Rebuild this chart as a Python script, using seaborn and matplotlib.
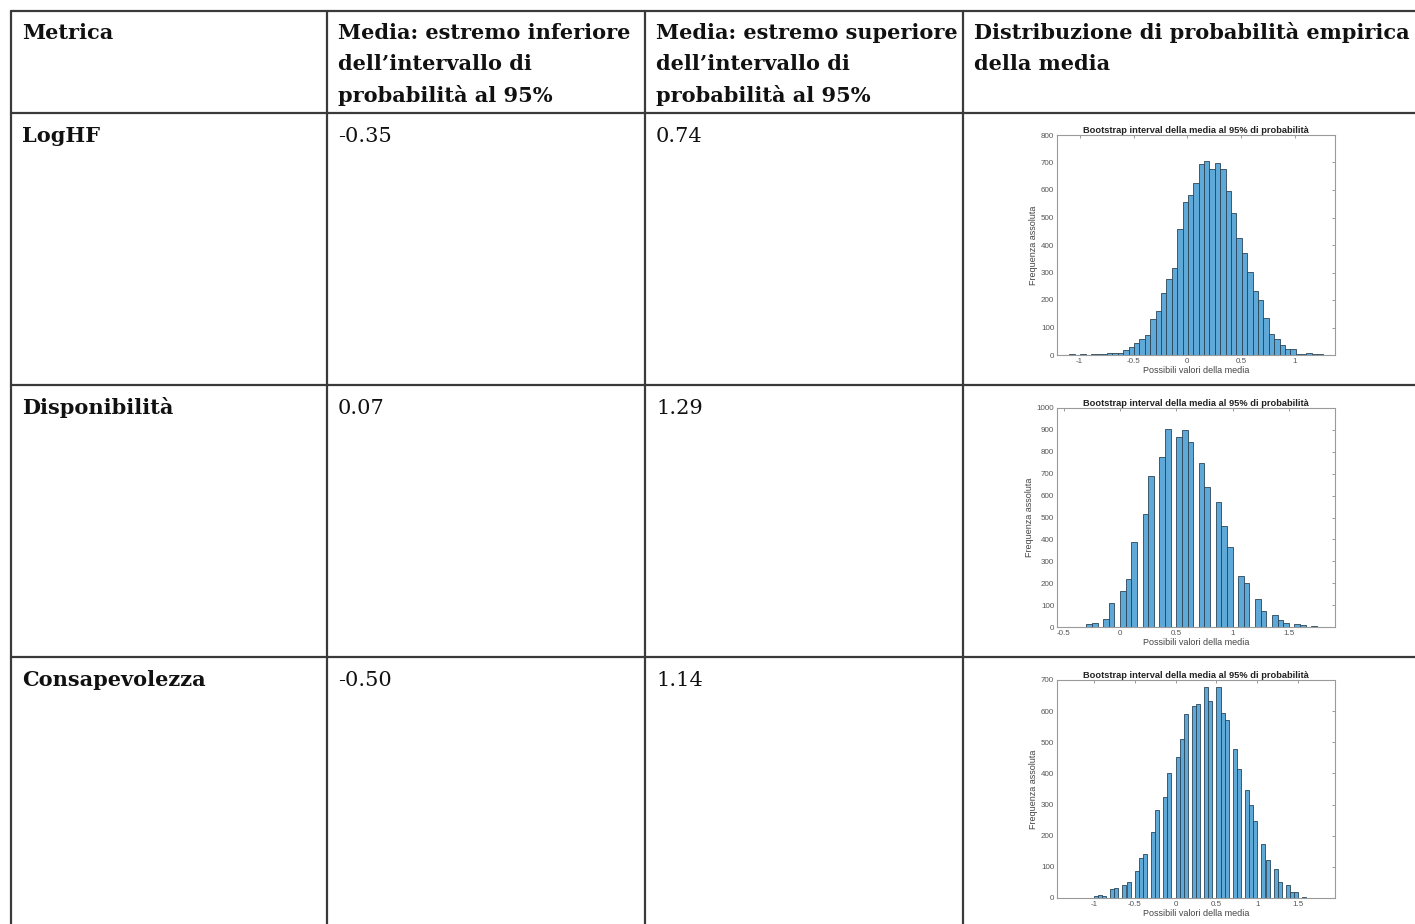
import matplotlib
matplotlib.use("Agg")
import matplotlib.pyplot as plt
import seaborn as sns
import numpy as np
import pandas as pd

sns.set_theme(style="white")
plt.rcParams['font.family'] = ['DejaVu Serif']

# table content
header = [
    ["Metrica"],
    ["Media: estremo inferiore", "dell\u2019intervallo di", "probabilit\u00e0 al 95%"],
    ["Media: estremo superiore", "dell\u2019intervallo di", "probabilit\u00e0 al 95%"],
    ["Distribuzione di probabilit\u00e0 empirica", "della media"],
]
metrics = ["LogHF", "Disponibilit\u00e0", "Consapevolezza"]
lower = [-0.35, 0.07, -0.50]
upper = [0.74, 1.29, 1.14]

# bootstrap histograms (bin width 0.05), counts
bin_width = 0.05
loghf_start = -1.145
loghf_counts = [1, 2, 1, 3, 1, 2, 2, 3, 7, 6, 8, 17, 28, 45, 57, 72, 130, 160, 225, 275,
                317, 460, 555, 583, 625, 695, 707, 675, 697, 677, 598, 518, 425, 372, 302,
                232, 200, 135, 75, 57, 37, 23, 22, 5, 3, 9, 2, 2]
disp_start = -0.5
disp_counts = [2, 2, 0, 0, 12, 18, 0, 38, 110, 0, 165, 218, 390, 0, 515, 688, 0, 778, 902,
               0, 867, 898, 843, 0, 748, 640, 0, 570, 463, 367, 0, 232, 203, 0, 130, 72, 0,
               57, 32, 20, 0, 13, 7, 0, 3, 2]
cons_start = -1.3
cons_counts = [1, 1, 0, 0, 1, 0, 5, 9, 7, 0, 29, 31, 0, 42, 52, 0, 87, 130, 140, 0, 212, 283,
               0, 325, 400, 0, 452, 510, 592, 0, 618, 622, 0, 677, 633, 0, 677, 595, 573, 0,
               477, 413, 0, 348, 300, 247, 0, 172, 122, 0, 92, 52, 0, 42, 20, 18, 0, 4, 0, 0,
               1, 1]

hist_starts = [loghf_start, disp_start, cons_start]
hist_counts = [loghf_counts, disp_counts, cons_counts]
hist_xlims = [(-1.21, 1.37), (-0.56, 1.91), (-1.45, 1.95)]
hist_xticks = [[-1, -0.5, 0, 0.5, 1], [-0.5, 0, 0.5, 1, 1.5], [-1, -0.5, 0, 0.5, 1, 1.5]]
hist_ymax = [800, 1000, 700]

W, H = 1415, 924
fig = plt.figure(figsize=(W / 100, H / 100), dpi=100)

bg = fig.add_axes([0, 0, 1, 1])
bg.set_xlim(0, W)
bg.set_ylim(H, 0)
bg.axis("off")

col_x = [11, 327, 645, 963]
row_y = [11, 113, 385, 657]
line_kw = dict(color="#3a3a3a", lw=1.6)
for x in col_x:
    bg.plot([x, x], [11, H], **line_kw)
for y in row_y:
    bg.plot([11, W], [y, y], **line_kw)

txt_pad = 11
for x, lines in zip(col_x, header):
    for i, line in enumerate(lines):
        bg.text(x + txt_pad, 39 + i * 31.5, line, fontsize=15, fontweight="bold",
                va="baseline", ha="left", color="#111111")

for r, (name, lo, hi) in enumerate(zip(metrics, lower, upper)):
    yb = row_y[r + 1] + 29
    bg.text(col_x[0] + txt_pad, yb, name, fontsize=15, fontweight="bold",
            va="baseline", color="#111111")
    bg.text(col_x[1] + txt_pad, yb, f"{lo:.2f}", fontsize=15, va="baseline", color="#111111")
    bg.text(col_x[2] + txt_pad, yb, f"{hi:.2f}", fontsize=15, va="baseline", color="#111111")

# histogram axes boxes (pixels: left, top, right, bottom)
boxes = [(1057, 135, 1335, 355), (1057, 408, 1335, 627), (1057, 680, 1335, 898)]
sans = ['Liberation Sans', 'DejaVu Sans']

for (l, t, r, b), start, counts, xl, xt, ym in zip(boxes, hist_starts, hist_counts,
                                                    hist_xlims, hist_xticks, hist_ymax):
    ax = fig.add_axes([l / W, 1 - b / H, (r - l) / W, (b - t) / H])
    n = len(counts)
    df = pd.DataFrame({"valore": start + bin_width * (np.arange(n) + 0.5),
                       "conteggio": counts})
    sns.histplot(data=df, x="valore", weights="conteggio", binwidth=bin_width,
                 binrange=(start, start + bin_width * n), ax=ax, color="#5ea9d8",
                 edgecolor="#2a4558", linewidth=0.6, alpha=1.0)
    ax.set_xlim(*xl)
    ax.set_ylim(0, ym)
    ax.set_xticks(xt)
    ax.set_xticklabels([f"{v:g}" for v in xt])
    ax.set_yticks(np.arange(0, ym + 1, 100))
    ax.tick_params(direction="in", top=True, right=True, length=2.5, width=0.6,
                   labelsize=5.8, colors="#8a8a8a", labelcolor="#555555", pad=2)
    for lab in ax.get_xticklabels() + ax.get_yticklabels():
        lab.set_family(sans)
    for s in ax.spines.values():
        s.set_color("#9a9a9a")
        s.set_linewidth(0.8)
    ax.set_title("Bootstrap interval della media al 95% di probabilit\u00e0", fontsize=6.7,
                 fontweight="bold", family=sans, color="#222222", pad=1.5)
    ax.set_xlabel("Possibili valori della media", fontsize=6.5, family=sans,
                  color="#444444", labelpad=1)
    ax.set_ylabel("Frequenza assoluta", fontsize=6.5, family=sans, color="#444444",
                  labelpad=2)
    ax.grid(False)

fig.savefig("out.png", dpi=100)
